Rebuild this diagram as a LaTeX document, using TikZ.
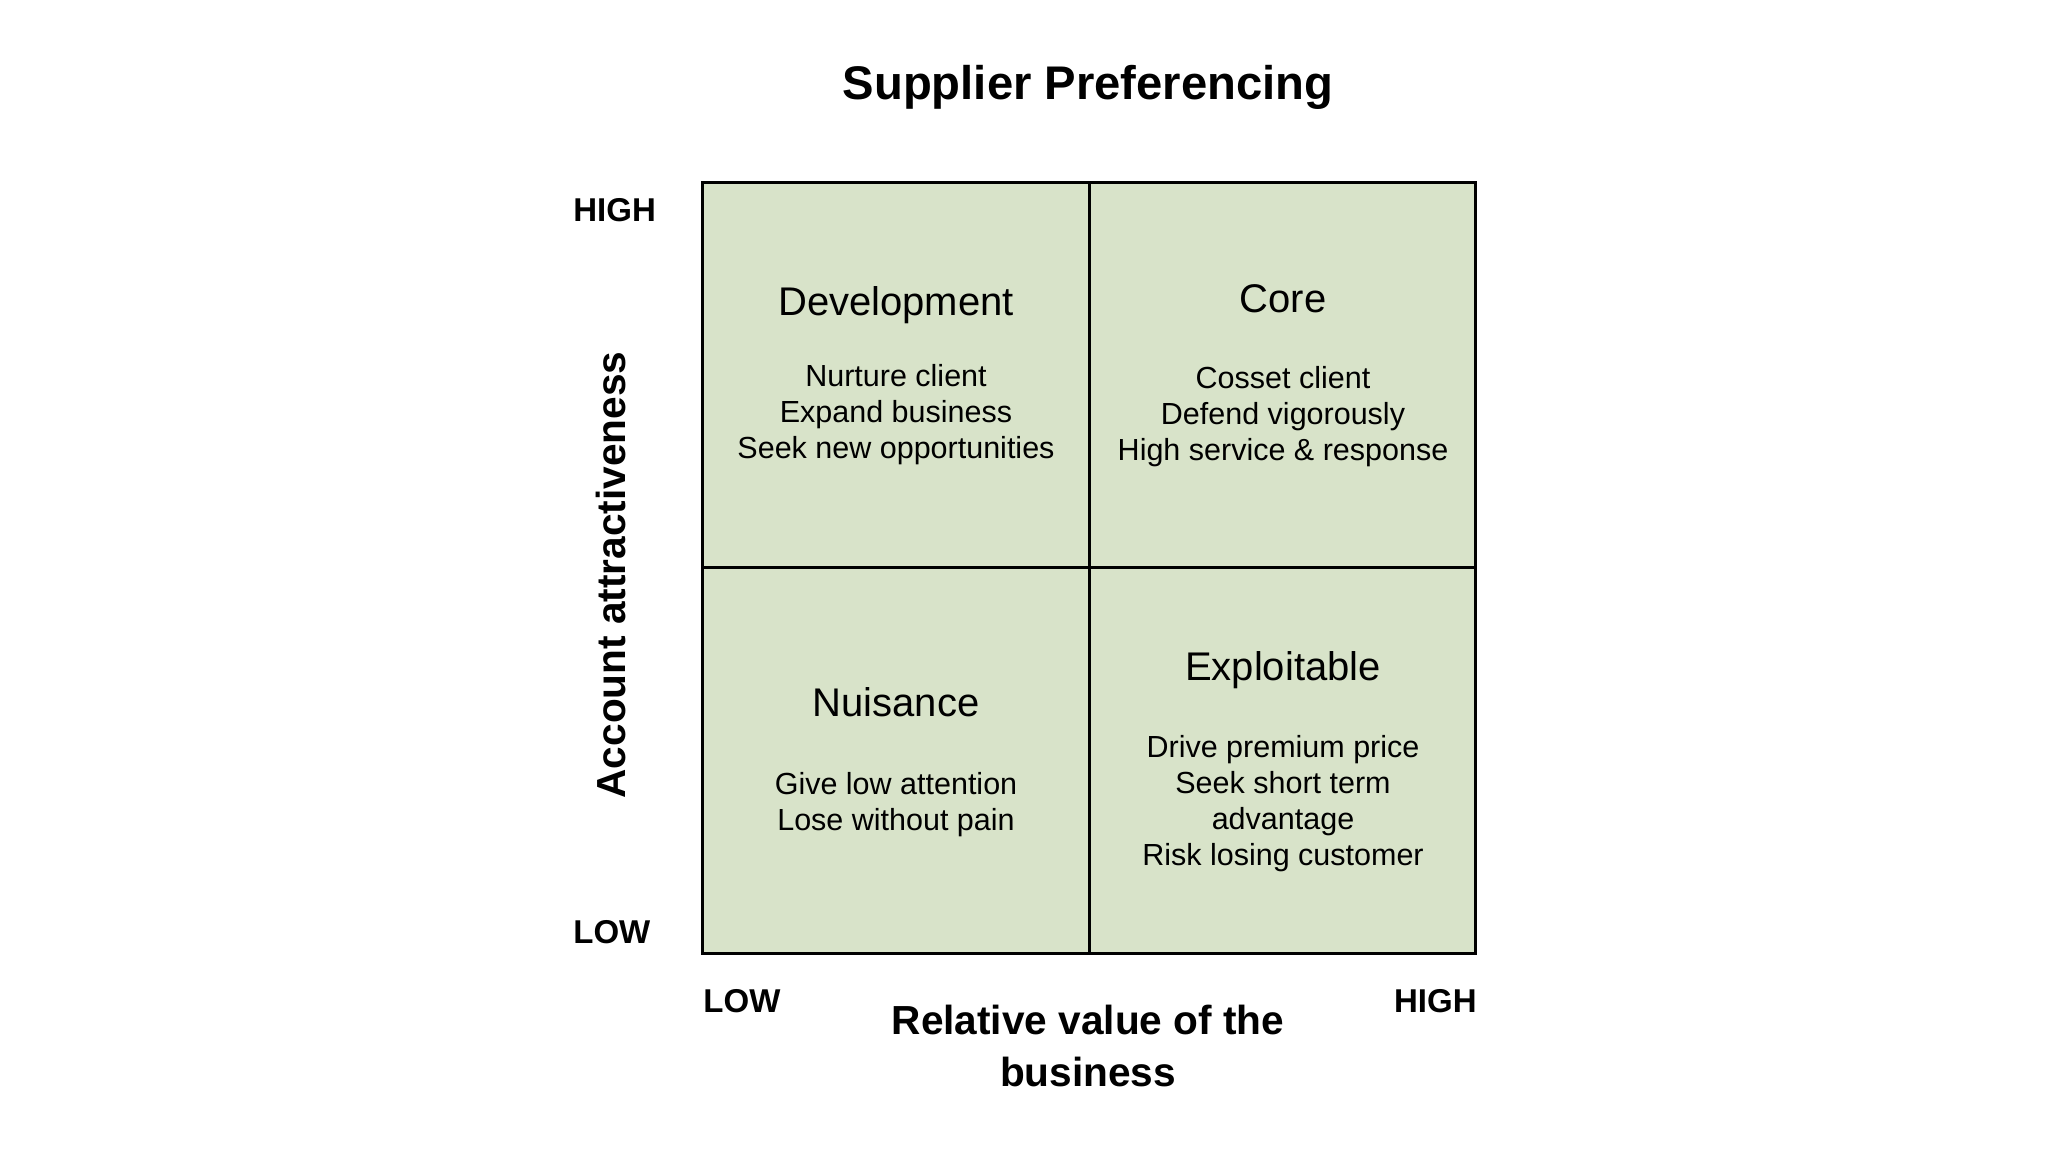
\documentclass[tikz,border=0pt]{standalone}
\usepackage{fontspec}
\setmainfont{Liberation Sans}
\usetikzlibrary{positioning}
\definecolor{quad}{RGB}{216,227,201}

\begin{document}
\begin{tikzpicture}[x=0.5pt,y=-0.5pt,
cell/.style={draw,line width=1.5pt,fill=quad,minimum width=193.25pt,minimum height=192.75pt,inner sep=0pt,outer sep=0pt},
head/.style={font=\fontsize{20}{24}\selectfont,anchor=base,inner sep=0pt},
body/.style={font=\fontsize{15.25}{18}\selectfont,align=center,anchor=base,inner sep=0pt},
lvl/.style={font=\bfseries\fontsize{16.5}{20}\selectfont,inner sep=0pt},
axis/.style={font=\bfseries\fontsize{20.3}{26}\selectfont,align=center,anchor=base,inner sep=0pt}]
\useasboundingbox (0,0) rectangle (2048,1152);
\node[font=\bfseries\fontsize{23.6}{28}\selectfont,anchor=base,inner sep=0pt] (title) at (1088,99) {Supplier Preferencing};
% the four quadrants
\node[cell] (dev) at (896,374.75) {};
\node[cell,right=0pt of dev] (core) {};
\node[cell,below=0pt of dev] (nuis) {};
\node[cell,right=0pt of nuis] (expl) {};
% base of a body node is its last line
\node[head] (devh) at (896,315) {Development};
\node[body] (devb) at ([yshift=-71.5pt]devh.base) {Nurture client\\Expand business\\Seek new opportunities};
\node[head] (coreh) at (1283,312) {Core};
\node[body] (coreb) at ([yshift=-74pt]coreh.base) {Cosset client\\Defend vigorously\\High service \& response};
\node[head] (nuish) at (896,716) {Nuisance};
\node[body] (nuisb) at ([yshift=-57pt]nuish.base) {Give low attention\\Lose without pain};
\node[head] (explh) at (1283,680) {Exploitable};
\node[body] (explb) at ([yshift=-92.5pt]explh.base) {Drive premium price\\Seek short term\\advantage\\Risk losing customer};
% axes
\node[lvl,anchor=base west] (yhigh) at (573,221) {HIGH};
\node[lvl,anchor=base west] (ylow) at (573,943) {LOW};
\node[lvl,anchor=base west] (xlow) at (703,1012) {LOW};
\node[lvl,anchor=base east] (xhigh) at (1477,1012) {HIGH};
\node[axis,rotate=90] (ylab) at (625,575) {Account attractiveness};
\node[axis] (xlab) at (1088,1086) {Relative value of the\\business};
\end{tikzpicture}
\end{document}
